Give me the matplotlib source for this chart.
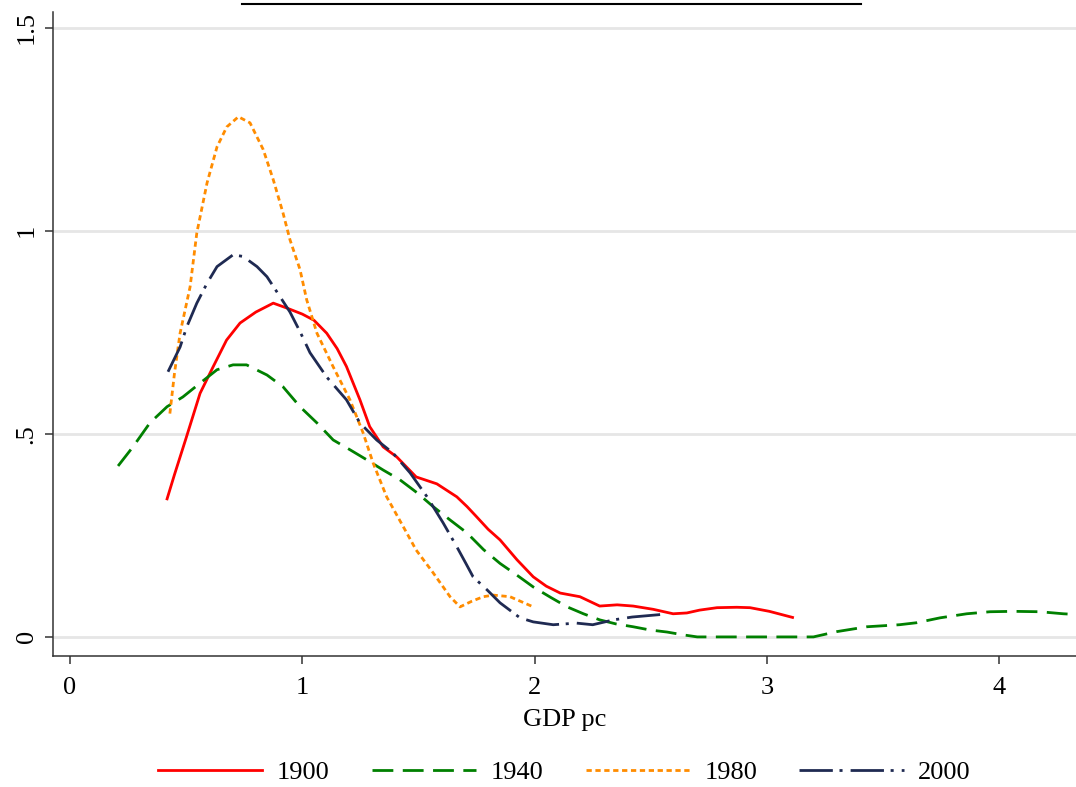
import matplotlib
matplotlib.use("Agg")
import matplotlib.pyplot as plt
from matplotlib.lines import Line2D

# ---- data ----
x1900 = [0.418, 0.45, 0.50, 0.56, 0.616, 0.674, 0.732, 0.80, 0.875, 0.933, 1.0, 1.05, 1.105,
         1.15, 1.19, 1.248, 1.29, 1.348, 1.407, 1.49, 1.579, 1.665, 1.709, 1.75, 1.80, 1.851,
         1.924, 1.994, 2.05, 2.11, 2.195, 2.28, 2.355, 2.424, 2.51, 2.596, 2.655, 2.71, 2.785,
         2.87, 2.927, 3.01, 3.11]
y1900 = [0.34, 0.40, 0.49, 0.60, 0.665, 0.731, 0.773, 0.80, 0.822, 0.81, 0.795, 0.78, 0.748,
         0.71, 0.666, 0.584, 0.518, 0.468, 0.443, 0.394, 0.377, 0.345, 0.321, 0.296, 0.265, 0.239,
         0.19, 0.148, 0.125, 0.108, 0.099, 0.076, 0.079, 0.076, 0.068, 0.057, 0.059, 0.066, 0.072,
         0.073, 0.072, 0.063, 0.048]

x1940 = [0.207, 0.271, 0.344, 0.418, 0.486, 0.56, 0.633, 0.702, 0.76, 0.848, 0.917, 0.99, 1.063,
         1.133, 1.205, 1.278, 1.348, 1.42, 1.494, 1.563, 1.636, 1.709, 1.78, 1.851, 1.924, 1.994,
         2.07, 2.14, 2.21, 2.28, 2.35, 2.424, 2.497, 2.57, 2.64, 2.70, 2.80, 3.0, 3.2, 3.30, 3.43,
         3.57, 3.645, 3.745, 3.86, 3.96, 4.06, 4.175, 4.275, 4.34]
y1940 = [0.421, 0.468, 0.527, 0.567, 0.591, 0.625, 0.658, 0.67, 0.67, 0.645, 0.616, 0.567, 0.527,
         0.485, 0.461, 0.436, 0.411, 0.387, 0.355, 0.321, 0.288, 0.256, 0.215, 0.181, 0.152, 0.123,
         0.097, 0.074, 0.057, 0.042, 0.032, 0.025, 0.017, 0.012, 0.005, 0.0, 0.0, 0.0, 0.0, 0.013,
         0.025, 0.03, 0.035, 0.047, 0.057, 0.062, 0.063, 0.062, 0.057, 0.055]

x1980 = [0.43, 0.45, 0.474, 0.517, 0.546, 0.59, 0.633, 0.675, 0.725, 0.775, 0.832, 0.875, 0.917,
         0.947, 0.99, 1.019, 1.063, 1.133, 1.205, 1.262, 1.305, 1.363, 1.435, 1.49, 1.563, 1.636,
         1.679, 1.73, 1.779, 1.822, 1.894, 1.994]
y1980 = [0.55, 0.65, 0.748, 0.862, 0.995, 1.118, 1.207, 1.256, 1.281, 1.266, 1.20, 1.126, 1.044,
         0.978, 0.905, 0.83, 0.748, 0.665, 0.584, 0.502, 0.428, 0.345, 0.271, 0.214, 0.158, 0.099,
         0.074, 0.088, 0.099, 0.103, 0.099, 0.074]

x2000 = [0.422, 0.474, 0.503, 0.546, 0.59, 0.633, 0.702, 0.745, 0.805, 0.848, 0.904, 0.947, 0.99,
         1.033, 1.105, 1.19, 1.248, 1.32, 1.39, 1.464, 1.537, 1.606, 1.665, 1.705, 1.735, 1.795,
         1.851, 1.937, 1.994, 2.08, 2.18, 2.25, 2.34, 2.42, 2.54]
y2000 = [0.653, 0.714, 0.764, 0.822, 0.871, 0.912, 0.941, 0.937, 0.912, 0.887, 0.838, 0.80, 0.752,
         0.70, 0.64, 0.584, 0.527, 0.485, 0.453, 0.404, 0.345, 0.281, 0.222, 0.18, 0.148, 0.116,
         0.084, 0.047, 0.037, 0.03, 0.034, 0.03, 0.042, 0.049, 0.055]

series_labels = ["1900", "1940", "1980", "2000"]
xticks = [0, 1, 2, 3, 4]
xticklabels = ["0", "1", "2", "3", "4"]
yticks = [0, 0.5, 1, 1.5]
yticklabels = ["0", ".5", "1", "1.5"]

# ---- style ----
serif = ["Liberation Serif", "DejaVu Serif"]
FS = 19
plt.rcParams["font.family"] = serif

fig = plt.figure(figsize=(10.76, 7.87), dpi=100)
ax = fig.add_axes([53 / 1076, 1 - 656 / 787, 1 - 53 / 1076, (656 - 12) / 787])

lw = 2.0
ax.plot(x1900, y1900, color="#ff0000", lw=lw, ls="-", label=series_labels[0],
        solid_joinstyle="round")
ax.plot(x1940, y1940, color="#008000", lw=lw, ls=(0, (7.5, 3.4)), label=series_labels[1])
ax.plot(x1980, y1980, color="#ff8c00", lw=lw, ls=(0, (1.9, 1.3)), label=series_labels[2])
ax.plot(x2000, y2000, color="#1f2a52", lw=lw, ls=(0, (12, 2.4, 1.1, 2.9)), label=series_labels[3])

ax.set_xlim(-0.073, 4.33)
ax.set_ylim(-0.047, 1.539)

ax.set_yticks(yticks)
ax.set_yticklabels(yticklabels, rotation=90, va="center", fontsize=FS)
ax.set_xticks(xticks)
ax.set_xticklabels(xticklabels, fontsize=FS)
ax.tick_params(axis="both", direction="out", length=6, width=1.1, color="#333333")
ax.tick_params(axis="x", pad=9)
ax.tick_params(axis="y", pad=5)

for yv in yticks:
    ax.axhline(yv, color="#e6e6e6", lw=2, zorder=0)

ax.spines["top"].set_visible(False)
ax.spines["right"].set_visible(False)
ax.spines["left"].set_color("#333333")
ax.spines["bottom"].set_color("#333333")
ax.spines["left"].set_linewidth(1.1)
ax.spines["bottom"].set_linewidth(1.1)

ax.set_xlabel("GDP pc", fontsize=FS, labelpad=7)

leg = ax.legend(loc="center", bbox_to_anchor=((53 + 1076) / 2 / 1076, 1 - 772 / 787),
                bbox_transform=fig.transFigure, ncol=4, frameon=False, fontsize=FS,
                handlelength=3.95, handletextpad=0.55, columnspacing=1.6)

# cut-off title underline at the top of the image
fig.add_artist(Line2D([242 / 1076, 861 / 1076], [1 - 3.5 / 787, 1 - 3.5 / 787],
                      color="black", lw=1.5, transform=fig.transFigure))

fig.savefig("out.png", dpi=100)
